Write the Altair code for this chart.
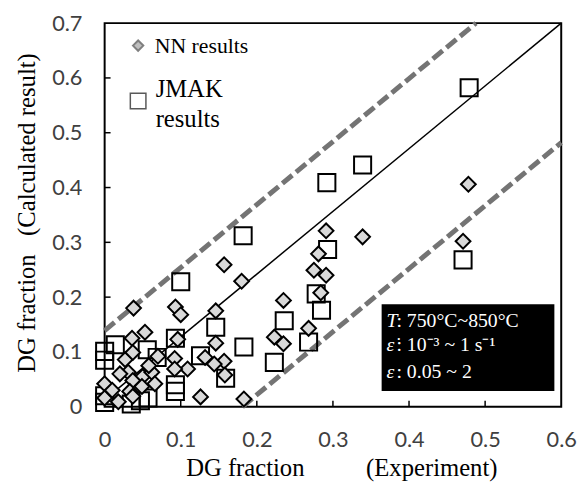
import altair as alt
import pandas as pd

# NN results (diamonds)
nn_x = [0.478, 0.471, 0.339, 0.291, 0.281, 0.275, 0.291, 0.284, 0.235, 0.268, 0.223, 0.235,
        0.157, 0.180, 0.038, 0.093, 0.100, 0.146, 0.146, 0.096, 0.053, 0.036, 0.132, 0.157,
        0.158, 0.109, 0.092, 0.092, 0.126, 0.183, 0.144, 0.000, 0.000, 0.018, 0.027, 0.037,
        0.070, 0.031, 0.050, 0.062, 0.037, 0.066, 0.049, 0.033, 0.037, 0.010, 0.058, 0.020]
nn_y = [0.406, 0.302, 0.310, 0.321, 0.279, 0.249, 0.240, 0.208, 0.194, 0.143, 0.127, 0.115,
        0.259, 0.229, 0.180, 0.182, 0.168, 0.175, 0.116, 0.123, 0.136, 0.125, 0.090, 0.083,
        0.058, 0.069, 0.088, 0.069, 0.018, 0.014, 0.078, 0.042, 0.016, 0.009, 0.086, 0.099,
        0.092, 0.063, 0.055, 0.063, 0.048, 0.042, 0.037, 0.028, 0.019, 0.030, 0.075, 0.060]

# JMAK results (squares)
jm_x = [0.479, 0.339, 0.292, 0.293, 0.278, 0.285, 0.236, 0.268, 0.223, 0.471, 0.182, 0.100,
        0.146, 0.183, 0.093, 0.126, 0.159, 0.093, 0.093, 0.000, 0.000, 0.000, 0.000, 0.014,
        0.056, 0.069, 0.047, 0.057, 0.035]
jm_y = [0.582, 0.441, 0.409, 0.287, 0.206, 0.176, 0.157, 0.118, 0.081, 0.268, 0.312, 0.228,
        0.145, 0.109, 0.125, 0.093, 0.052, 0.040, 0.028, 0.101, 0.085, 0.020, 0.008, 0.113,
        0.104, 0.090, 0.011, 0.016, 0.005]

# reference lines
solid_x = [0.0, 0.6]
solid_y = [0.013, 0.7]
upper_x = [0.0, 0.488]
upper_y = [0.139, 0.7]
lower_x = [0.181, 0.6]
lower_y = [0.0, 0.482]

x_ticks = [0, 0.1, 0.2, 0.3, 0.4, 0.5, 0.6]
y_ticks = [0, 0.1, 0.2, 0.3, 0.4, 0.5, 0.6, 0.7]
x_inner_ticks = [0.1, 0.2, 0.3, 0.4, 0.5]
y_inner_ticks = [0.1, 0.2, 0.3, 0.4, 0.5, 0.6]

W, H = 463, 389
xs = alt.Scale(domain=[0, 0.6], nice=False, zero=False)
ys = alt.Scale(domain=[0, 0.7], nice=False, zero=False)

x_axis = alt.Axis(values=x_ticks, format="~g", labelFlush=False, labelPadding=23,
                  grid=False, domain=False, ticks=False,
                  title="DG fraction" + "\u00a0" * 10 + "(Experiment)",
                  titleX=240, titleY=70, titleBaseline="alphabetic")
y_axis = alt.Axis(values=y_ticks, format="~g", labelPadding=23,
                  grid=False, domain=False, ticks=False,
                  title="DG fraction" + "\u00a0" * 3 + "(Calculated result)",
                  titleX=-71, titleY=192, titleBaseline="alphabetic")


def X():
    return alt.X("x:Q", scale=xs, axis=x_axis)


def Y():
    return alt.Y("y:Q", scale=ys, axis=y_axis)


nn = pd.DataFrame({"x": nn_x, "y": nn_y})
jm = pd.DataFrame({"x": jm_x, "y": jm_y})

solid = alt.Chart(pd.DataFrame({"x": solid_x, "y": solid_y})).mark_line(
    color="black", strokeWidth=1.5).encode(x=X(), y=Y())
upper = alt.Chart(pd.DataFrame({"x": upper_x, "y": upper_y})).mark_line(
    color="#747474", strokeWidth=5, strokeDash=[13, 5], strokeCap="butt").encode(x=X(), y=Y())
lower = alt.Chart(pd.DataFrame({"x": lower_x, "y": lower_y})).mark_line(
    color="#747474", strokeWidth=5, strokeDash=[13, 5], strokeCap="butt").encode(x=X(), y=Y())

squares = alt.Chart(jm).mark_point(shape="square", size=300, filled=False, color="black",
                                   strokeWidth=2, opacity=1).encode(x=X(), y=Y())
diamonds = alt.Chart(nn).mark_point(shape="diamond", size=225, filled=True, fill="#d9d9d9",
                                    stroke="black", strokeWidth=2, opacity=1).encode(x=X(), y=Y())

xt = alt.Chart(pd.DataFrame({"x": x_inner_ticks})).mark_rule(color="black", strokeWidth=1.5).encode(
    x=X(), y=alt.value(H), y2=alt.value(H - 6))
yt = alt.Chart(pd.DataFrame({"y": y_inner_ticks})).mark_rule(color="black", strokeWidth=1.5).encode(
    y=Y(), x=alt.value(0), x2=alt.value(6))

# legend (annotation)
leg_d = alt.Chart(pd.DataFrame({"x": [0.044], "y": [0.659]})).mark_point(
    shape="diamond", size=110, filled=True, fill="#bfbfbf", stroke="#7f7f7f", strokeWidth=2,
    opacity=1).encode(x=X(), y=Y())
leg_s = alt.Chart(pd.DataFrame({"x": [0.044], "y": [0.558]})).mark_point(
    shape="square", size=250, filled=False, color="#595959", strokeWidth=1.5,
    opacity=1).encode(x=X(), y=Y())
leg_t1 = alt.Chart(pd.DataFrame({"x": [0.066], "y": [0.646], "t": ["NN results"]})).mark_text(
    font="Liberation Serif", fontSize=22, align="left", baseline="alphabetic", color="black").encode(
    x=X(), y=Y(), text="t:N")
leg_t2 = alt.Chart(pd.DataFrame({"x": [0.067, 0.067], "y": [0.565, 0.511],
                                 "t": ["JMAK", "results"]})).mark_text(
    font="Liberation Serif", fontSize=25, align="left", baseline="alphabetic", color="black").encode(
    x=X(), y=Y(), text="t:N")

# condition box
box = alt.Chart(pd.DataFrame({"x": [0.364], "x2": [0.591], "y": [0.187], "y2": [0.0288]})).mark_rect(
    color="black").encode(x=X(), x2="x2:Q", y=Y(), y2="y2:Q")
sym = alt.Chart(pd.DataFrame({"x": [0.3705, 0.3705, 0.3705], "y": [0.146, 0.101, 0.052],
                              "t": ["T", "\u03b5\u0307", "\u03b5"]})).mark_text(
    font="Liberation Serif", fontSize=20, fontStyle="italic", align="left", baseline="alphabetic",
    color="white").encode(x=X(), y=Y(), text="t:N")
rest = alt.Chart(pd.DataFrame({"x": [0.3705, 0.3705, 0.3705], "y": [0.146, 0.101, 0.052],
                               "t": [" : 750\u00b0C~850\u00b0C", " : 10\u207b\u00b3 ~ 1 s\u207b\u00b9",
                                     " : 0.05 ~ 2"]})).mark_text(
    font="Liberation Serif", fontSize=20, align="left", baseline="alphabetic", dx=10,
    color="white").encode(x=X(), y=Y(), text="t:N")

chart = alt.layer(solid, upper, lower, squares, diamonds, xt, yt, leg_d, leg_s, leg_t1, leg_t2,
                  box, sym, rest).properties(
    width=W, height=H,
    autosize=alt.AutoSizeParams(type="none"),
    padding={"left": 98, "top": 12, "right": 16, "bottom": 75},
).configure_view(stroke="black", strokeWidth=2).configure_axis(
    labelFont="Lato", labelFontSize=22, labelColor="#404040",
    titleFont="Liberation Serif", titleFontSize=25, titleFontWeight="normal", titleColor="black",
)

chart.save("out.html", embed_options={"renderer": "svg", "actions": False})
